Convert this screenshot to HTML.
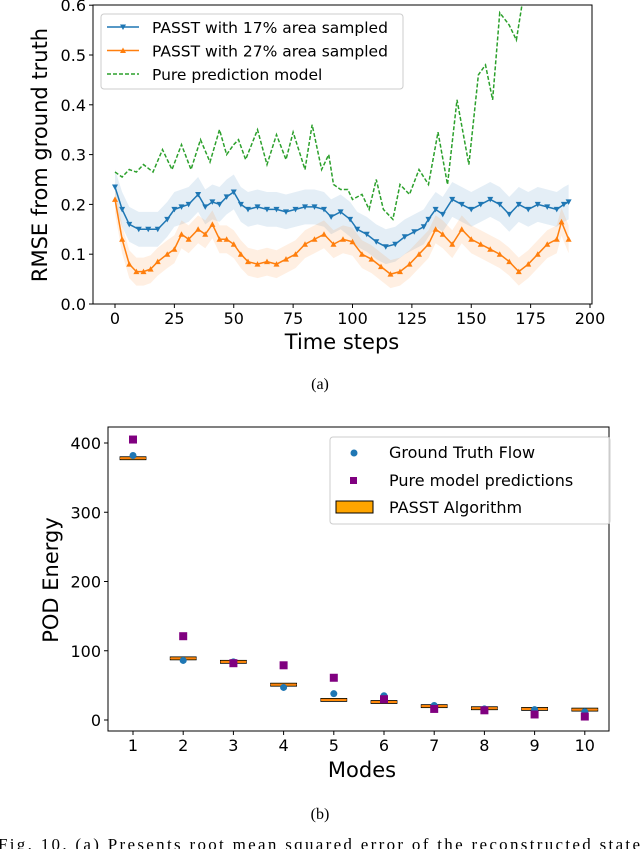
<!DOCTYPE html>
<html><head><meta charset="utf-8"><style>
body{margin:0;background:#fff;width:640px;height:849px;overflow:hidden}
svg text{font-family:"DejaVu Sans","Liberation Sans",sans-serif}
</style></head><body>
<svg id="s" width="640" height="849">
<g id="top"></g>
<g id="bot"></g>
<text x="320" y="389" text-anchor="middle" font-size="16" style="font-family:'Liberation Serif',serif">(a)</text>
<text x="320" y="819" text-anchor="middle" font-size="16" style="font-family:'Liberation Serif',serif">(b)</text>
<text x="-2" y="850" font-size="17" textLength="642" lengthAdjust="spacing" style="font-family:'Liberation Serif',serif">Fig. 10.    (a) Presents root mean squared error of the reconstructed state</text>
</svg>
<script>
// ---- Top chart data ----
const blueT=[0,3,6,10,14,18,22,25,28,31,35,38,41,44,47,50,53,56,60,64,68,72,76,80,84,88,91,95,99,102,106,110,114,118,122,126,130,132,135,138,142,146,150,154,158,162,166,170,174,178,182,186,189,191];
const blueV=[0.235,0.19,0.16,0.15,0.15,0.15,0.17,0.19,0.195,0.2,0.22,0.195,0.205,0.2,0.215,0.225,0.2,0.19,0.195,0.19,0.19,0.185,0.19,0.195,0.195,0.19,0.175,0.185,0.17,0.15,0.14,0.125,0.115,0.12,0.135,0.145,0.155,0.17,0.19,0.18,0.21,0.2,0.19,0.2,0.21,0.2,0.18,0.2,0.19,0.2,0.195,0.19,0.2,0.205];
const blueS=0.035;
const orT=[0,3,6,9,12,15,18,22,25,28,31,35,38,41,44,47,50,53,56,60,64,68,72,76,80,84,88,92,96,100,104,108,112,116,120,124,128,132,135,138,142,146,150,154,158,162,166,170,174,178,182,186,188,191];
const orV=[0.21,0.13,0.08,0.065,0.065,0.07,0.085,0.1,0.11,0.14,0.13,0.15,0.14,0.16,0.13,0.13,0.12,0.1,0.085,0.08,0.085,0.08,0.09,0.1,0.12,0.13,0.14,0.12,0.13,0.125,0.1,0.09,0.075,0.06,0.065,0.08,0.1,0.12,0.15,0.14,0.12,0.15,0.13,0.12,0.11,0.1,0.085,0.065,0.08,0.1,0.12,0.13,0.165,0.13];
const orS=0.028;
const grT=[0,3,6,9,12,16,20,24,28,32,36,40,44,47,50,52,55,60,64,68,72,75,80,83,87,90,92,95,98,100,104,107,110,113,117,120,124,128,132,136,140,144,149,153,156,159,162,166,169,172];
const grV=[0.265,0.255,0.27,0.265,0.28,0.265,0.31,0.27,0.32,0.27,0.33,0.285,0.35,0.3,0.32,0.33,0.29,0.35,0.28,0.34,0.29,0.345,0.27,0.36,0.27,0.3,0.24,0.23,0.23,0.21,0.22,0.19,0.25,0.19,0.17,0.24,0.22,0.27,0.24,0.345,0.24,0.41,0.28,0.46,0.48,0.41,0.585,0.56,0.53,0.62];
const xTicks=[0,25,50,75,100,125,150,175,200];
const yTicks=[0.0,0.1,0.2,0.3,0.4,0.5,0.6];
// ---- Bottom chart data ----
const modes=[1,2,3,4,5,6,7,8,9,10];
const gtVals=[382,86,84,47,38,35,21,16,15,12];
const pureVals=[405,121,82,79,61,30,16,14,8,5];
const passtVals=[378,89,84,51,29,26,20,17,16,15];
const yTicks2=[0,100,200,300,400];

const NS="http://www.w3.org/2000/svg";
function mk(p,tag,a,txt){const e=document.createElementNS(NS,tag);for(const k in a)e.setAttribute(k,a[k]);if(txt!==undefined)e.textContent=txt;p.appendChild(e);return e;}

// ===== TOP =====
const T=document.getElementById('top');
const X=t=>115+t*2.375, Y=v=>304-v*498;
mk(T,'clipPath',{id:'c1'});
mk(document.getElementById('c1'),'rect',{x:93,y:5,width:499,height:299});
function band(ts,vs,s,col){
  let d='M'+ts.map((t,i)=>X(t)+','+Y(vs[i]+s)).join('L');
  for(let i=ts.length-1;i>=0;i--)d+='L'+X(ts[i])+','+Y(vs[i]-s);
  const b=mk(T,'path',{d:d+'Z',fill:col,'fill-opacity':0.12,'clip-path':'url(#c1)'});
  
  
}
band(blueT,blueV,blueS,'#1f77b4');
band(orT,orV,orS,'#ff7f0e');
function line(ts,vs,col,dash,name){
  const l=mk(T,'polyline',{points:ts.map((t,i)=>X(t)+','+Y(vs[i])).join(' '),fill:'none',stroke:col,'stroke-width':1.5,'clip-path':'url(#c1)'});
  if(dash)l.setAttribute('stroke-dasharray','4,2');
  
  
}
line(grT,grV,'#2ca02c',true,'pure-prediction-line');
line(blueT,blueV,'#1f77b4',false,'passt-17-line');
line(orT,orV,'#ff7f0e',false,'passt-27-line');
blueT.forEach((t,i)=>{const x=X(t),y=Y(blueV[i]);const m=mk(T,'path',{d:`M${x-3},${y-2.5}L${x+3},${y-2.5}L${x},${y+3}Z`,fill:'#1f77b4'});

});
orT.forEach((t,i)=>{const x=X(t),y=Y(orV[i]);const m=mk(T,'path',{d:`M${x-3},${y+2.5}L${x+3},${y+2.5}L${x},${y-3}Z`,fill:'#ff7f0e'});

});
mk(T,'rect',{x:93,y:5,width:499,height:299,fill:'none',stroke:'#000','stroke-width':1});
xTicks.forEach(t=>{mk(T,'line',{x1:X(t),x2:X(t),y1:304,y2:308,stroke:'#000'});
 const e=mk(T,'text',{x:X(t),y:324,'text-anchor':'middle','font-size':16},String(t));
 
 });
yTicks.forEach(v=>{mk(T,'line',{x1:89,x2:93,y1:Y(v),y2:Y(v),stroke:'#000'});
 const e=mk(T,'text',{x:86,y:Y(v)+6,'text-anchor':'end','font-size':16},v.toFixed(1));
 
 });
let e=mk(T,'text',{x:342,y:349,'text-anchor':'middle','font-size':21},'Time steps');

e=mk(T,'text',{x:0,y:0,'text-anchor':'middle','font-size':21,transform:'translate(47,155) rotate(-90)'},'RMSE from ground truth');

// legend
const L=mk(T,'g',{});

mk(L,'rect',{x:101,y:14,width:302,height:75,rx:3,fill:'#fff','fill-opacity':0.8,stroke:'#ccc'});
[['#1f77b4','PASST with 17% area sampled',0,'v'],['#ff7f0e','PASST with 27% area sampled',1,'^'],['#2ca02c','Pure prediction model',2,'']].forEach(([c,t,i,m])=>{
 const y=27+i*23.5;
 const ln=mk(L,'line',{x1:107,x2:139,y1:y,y2:y,stroke:c,'stroke-width':1.5});
 if(!m)ln.setAttribute('stroke-dasharray','4,2');
 if(m==='v')mk(L,'path',{d:`M120,${y-2.5}L126,${y-2.5}L123,${y+3}Z`,fill:c});
 if(m==='^')mk(L,'path',{d:`M120,${y+2.5}L126,${y+2.5}L123,${y-3}Z`,fill:c});
 const le=mk(L,'text',{x:152,y:y+6,'font-size':15.5},t);
 
});

// ===== BOTTOM =====
const B=document.getElementById('bot');
const X2=m=>133+(m-1)*50.2, Y2=v=>720-v*0.6925;
modes.forEach((m,i)=>{
 const x=X2(m),y=Y2(passtVals[i]);
 const r=mk(B,'rect',{x:x-13,y:y-1.5,width:26,height:3,fill:'#ffa500',stroke:'#000','stroke-width':0.8});
 
 mk(B,'line',{x1:x-13,x2:x+13,y1:y,y2:y,stroke:'#ff7f0e','stroke-width':1.5});
 const g=mk(B,'circle',{cx:x,cy:Y2(gtVals[i]),r:3.5,fill:'#1f77b4'});
 
 const p=mk(B,'rect',{x:x-4,y:Y2(pureVals[i])-4,width:8,height:8,fill:'#800080'});
 
 mk(B,'line',{x1:x,x2:x,y1:731,y2:735,stroke:'#000'});
 const t=mk(B,'text',{x:x,y:751,'text-anchor':'middle','font-size':16},String(m));
 
});
mk(B,'rect',{x:108,y:427,width:501,height:304,fill:'none',stroke:'#000'});
yTicks2.forEach(v=>{mk(B,'line',{x1:104,x2:108,y1:Y2(v),y2:Y2(v),stroke:'#000'});
 const t=mk(B,'text',{x:101,y:Y2(v)+6,'text-anchor':'end','font-size':16},String(v));
 });
e=mk(B,'text',{x:362,y:777,'text-anchor':'middle','font-size':21},'Modes');

e=mk(B,'text',{x:0,y:0,'text-anchor':'middle','font-size':21,transform:'translate(58,580) rotate(-90)'},'POD Energy');

const L2=mk(B,'g',{});

mk(L2,'rect',{x:330,y:437,width:280,height:87,rx:3,fill:'#fff','fill-opacity':0.8,stroke:'#ccc'});
mk(L2,'circle',{cx:354,cy:453,r:3.5,fill:'#1f77b4'});
mk(L2,'rect',{x:350,y:477,width:7,height:7,fill:'#800080'});
mk(L2,'rect',{x:336,y:501,width:37,height:12,fill:'#ffa500',stroke:'#000'});
[['Ground Truth Flow',458],['Pure model predictions',486],['PASST Algorithm',513]].forEach(([t,y])=>{
 const le=mk(L2,'text',{x:389,y:y,'font-size':16},t);
 });
</script>
</body></html>
